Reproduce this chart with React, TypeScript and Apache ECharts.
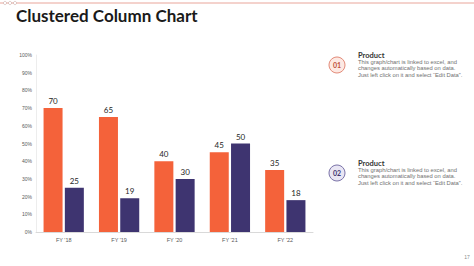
import React, { useEffect, useRef } from "react";
import * as echarts from "echarts";

const categories = ["FY '18", "FY '19", "FY '20", "FY '21", "FY '22"];
const product1 = [70, 65, 40, 45, 35];
const product2 = [25, 19, 30, 50, 18];
const yTicks = { min: 0, max: 100, interval: 10 };
const legendItems = [
  { num: "01", title: "Product", lines: ["This graph/chart is linked to excel, and", "changes automatically based on data.", "Just left click on it and select \u201cEdit Data\u201d."] },
  { num: "02", title: "Product", lines: ["This graph/chart is linked to excel, and", "changes automatically based on data.", "Just left click on it and select \u201cEdit Data\u201d."] },
];

const ORANGE = "#F4623A";
const PURPLE = "#3E3470";

export default function App() {
  const ref = useRef<HTMLDivElement>(null);
  useEffect(() => {
    if (!ref.current) return;
    const chart = echarts.init(ref.current, null, { renderer: "svg" });
    const legendStyles = [
      { fill: "#FDE9E3", stroke: "#E38A78", color: "#C0503A" },
      { fill: "#E9E6F4", stroke: "#7A72A8", color: "#3E3470" },
    ];
    const legendY = [65, 173];
    const legendGraphics: any[] = [];
    legendItems.forEach((it, i) => {
      const cy = legendY[i];
      const st = legendStyles[i];
      legendGraphics.push({
        type: "circle",
        shape: { cx: 337, cy, r: 8 },
        style: { fill: st.fill, stroke: st.stroke, lineWidth: 1 },
      });
      legendGraphics.push({
        type: "text",
        x: 337,
        y: cy,
        style: { text: it.num, fill: st.color, font: "bold 7px Lato", align: "center", verticalAlign: "middle" },
      });
      legendGraphics.push({
        type: "text",
        x: 358,
        y: cy - 10,
        style: { text: it.title, fill: "#333333", font: "bold 7.5px Lato", verticalAlign: "middle" },
      });
      it.lines.forEach((ln, j) => {
        legendGraphics.push({
          type: "text",
          x: 358,
          y: cy - 3 + j * 6.3,
          style: { text: ln, fill: "#707070", font: "5.8px 'Liberation Sans'", verticalAlign: "middle" },
        });
      });
    });
    chart.setOption({
      animation: false,
      grid: { left: 36, right: 161, top: 55, bottom: 34 },
      xAxis: {
        type: "category",
        data: categories,
        axisLine: { lineStyle: { color: "#D9D9D9" } },
        axisTick: { show: false },
        axisLabel: { color: "#595959", fontSize: 5.5, fontFamily: "Liberation Sans", margin: 5 },
      },
      yAxis: {
        type: "value",
        min: yTicks.min,
        max: yTicks.max,
        interval: yTicks.interval,
        axisLine: { show: true, lineStyle: { color: "#EDEDED" } },
        splitLine: { show: false },
        axisLabel: { color: "#595959", fontSize: 5, fontFamily: "Liberation Sans", formatter: "{value}%", margin: 4 },
      },
      series: [
        {
          type: "bar",
          data: product1,
          barWidth: 19,
          barGap: "12%",
          itemStyle: { color: ORANGE },
          label: { show: true, position: "top", color: "#262626", fontSize: 8, fontFamily: "Lato", distance: 3 },
        },
        {
          type: "bar",
          data: product2,
          barWidth: 19,
          itemStyle: { color: PURPLE },
          label: { show: true, position: "top", color: "#262626", fontSize: 8, fontFamily: "Lato", distance: 3 },
        },
      ],
      graphic: [
        { type: "line", shape: { x1: 0, y1: 3, x2: 474, y2: 3 }, style: { stroke: "#E9A59A", lineWidth: 1 } },
        { type: "circle", shape: { cx: 5, cy: 3, r: 1.6 }, style: { fill: "#fff", stroke: "#C9A9A4", lineWidth: 0.6 } },
        { type: "circle", shape: { cx: 10, cy: 3, r: 1.6 }, style: { fill: "#fff", stroke: "#C9A9A4", lineWidth: 0.6 } },
        { type: "circle", shape: { cx: 15, cy: 3, r: 1.6 }, style: { fill: "#fff", stroke: "#C9A9A4", lineWidth: 0.6 } },
        {
          type: "text",
          x: 16,
          y: 15,
          style: { text: "Clustered Column Chart", fill: "#1A1A1A", font: "bold 17px Lato", verticalAlign: "middle" },
        },
        ...legendGraphics,
        {
          type: "text",
          x: 467,
          y: 257,
          style: { text: "17", fill: "#8C8C8C", font: "5px 'Liberation Sans'", align: "center", verticalAlign: "middle" },
        },
      ],
    });
    return () => chart.dispose();
  }, []);
  return <div ref={ref} style={{ position: "fixed", left: 0, top: 0, width: 474, height: 266, background: "#fff" }} />;
}
